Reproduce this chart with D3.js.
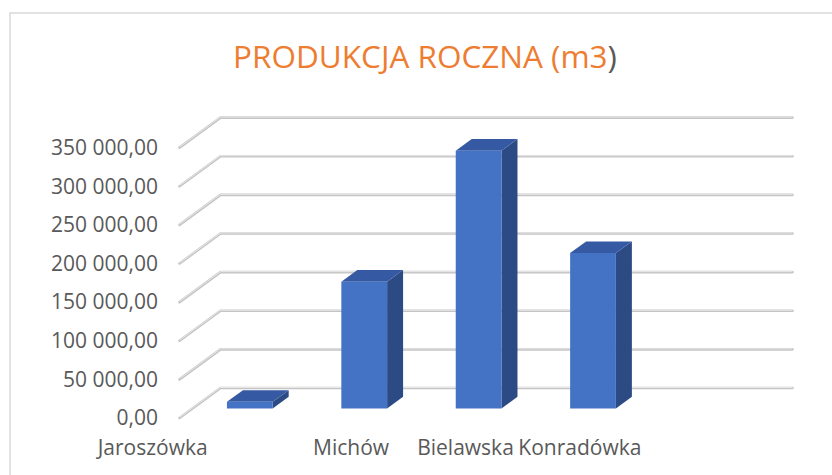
<!DOCTYPE html>
<html>
<head>
<meta charset="utf-8">
<script src="https://cdn.jsdelivr.net/npm/d3@7"></script>
<style>
  body { margin: 0; background: #fff; }
  text { font-family: "Open Sans", sans-serif; }
</style>
</head>
<body>
<div id="chart"></div>
<script>
// data
const categories = ["Jaroszówka", "Michów", "Bielawska", "Konradówka", ""];
const production = [8500, 164000, 333500, 201000, null];
const yTicks     = [0, 50000, 100000, 150000, 200000, 250000, 300000, 350000];
const titleText  = "PRODUKCJA ROCZNA (m3";

const W = 832, H = 475;

// oblique 3d layout
const origin = {x: 179.5, y: 418};   // front-left corner of the floor
const depth  = {x: 41, y: -30};       // front -> back wall
const plotW  = 572, plotH = 270.4;
const barD0 = 0.32, barD1 = 0.71;     // bar depth range (fraction)

const svg = d3.select("#chart").append("svg")
    .attr("width", W)
    .attr("height", H);

// chart frame
svg.append("rect")
   .attr("x", 10).attr("y", 13)
   .attr("width", 840).attr("height", 500)
   .attr("fill", "#fff")
   .attr("stroke", "#d9d9d9")
   .attr("stroke-width", 1.5);

let x = d3.scaleBand()
  .domain(categories.map((c, i) => i))
  .range([0, plotW])
  .paddingInner(0.6)
  .paddingOuter(0.3);

let y = d3.scaleLinear()
  .domain([0, 350000])
  .range([0, plotH]);

// project (category position, value, depth fraction) to screen
const P = (cx, v, d) => [origin.x + cx + d * depth.x, origin.y - y(v) + d * depth.y];

const fmt = d3.formatLocale({decimal: ",", thousands: " ", grouping: [3], currency: ["", ""]}).format(",.2f");

// gridlines: side wall diagonal + back wall line
const grid = svg.append("g");
yTicks.forEach(t => {
  const pts = [P(0, t, 0), P(0, t, 1), P(plotW, t, 1)];
  grid.append("path")
      .attr("d", d3.line()(pts))
      .attr("fill", "none")
      .attr("stroke", "#c4c4c4")
      .attr("stroke-width", 2.6)
      .attr("stroke-linejoin", "round")
      .attr("stroke-linecap", "round");
  grid.append("path")
      .attr("d", d3.line()(pts.map(p => [p[0], p[1] - 0.5])))
      .attr("fill", "none")
      .attr("stroke", "#e8e8e8")
      .attr("stroke-width", 1)
      .attr("stroke-linejoin", "round");
});

// y tick labels
svg.append("g").selectAll("text")
   .data(yTicks)
   .join("text")
     .attr("x", origin.x - 21.5)
     .attr("y", d => P(0, d, 0)[1])
     .attr("dy", "0.35em")
     .attr("text-anchor", "end")
     .attr("font-size", 21)
     .attr("fill", "#595959")
     .text(d => fmt(d));

// bars
const bars = svg.append("g");
production.forEach((v, i) => {
  if (v == null) return;
  const b0 = x(i), b1 = x(i) + x.bandwidth();
  const side = [P(b1, 0, barD0), P(b1, v, barD0), P(b1, v, barD1), P(b1, 0, barD1)];
  const top  = [P(b0, v, barD0), P(b1, v, barD0), P(b1, v, barD1), P(b0, v, barD1)];
  const front = [P(b0, 0, barD0), P(b1, 0, barD0), P(b1, v, barD0), P(b0, v, barD0)];
  bars.append("polygon").attr("points", side.join(" ")).attr("fill", "#2c4b84");
  bars.append("polygon").attr("points", top.join(" ")).attr("fill", "#3559a2");
  bars.append("polygon").attr("points", front.join(" ")).attr("fill", "#4472c4");
});

// category labels along the front edge
const firstLabelShift = -84;
svg.append("g").selectAll("text")
   .data(categories)
   .join("text")
     .attr("x", (d, i) => origin.x + x(i) + x.bandwidth() / 2 + (i === 0 ? firstLabelShift : 0))
     .attr("y", 455)
     .attr("text-anchor", "middle")
     .attr("font-size", 21)
     .attr("fill", "#595959")
     .text(d => d);

// title
const title = svg.append("text")
   .attr("x", 425)
   .attr("y", 68)
   .attr("text-anchor", "middle")
   .attr("font-size", 31.5)
   .attr("fill", "#ed7d31");
title.append("tspan").text(titleText);
title.append("tspan").attr("fill", "#595959").text(")");
</script>
</body>
</html>
